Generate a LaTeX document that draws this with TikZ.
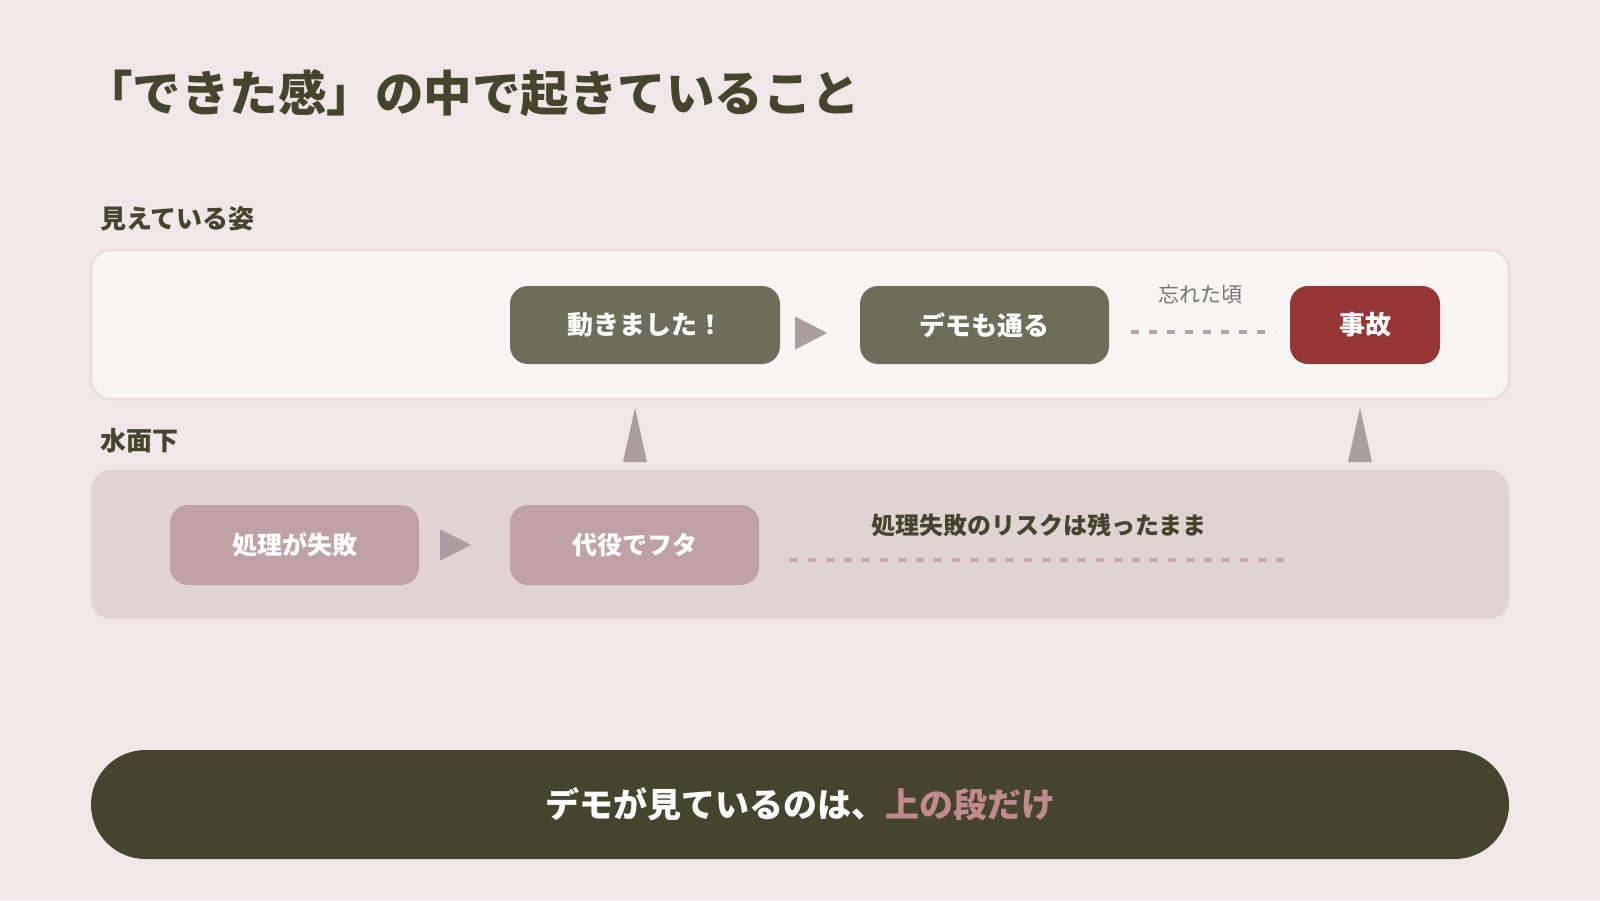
\documentclass[tikz,border=0pt]{standalone}
\usepackage{fontspec}
\setmainfont{Noto Sans CJK JP}
\usetikzlibrary{calc}
\definecolor{bg}{HTML}{F1E7E8}
\definecolor{ink}{HTML}{45452E}
\definecolor{uppanel}{HTML}{F8F6F4}
\definecolor{upborder}{HTML}{E8DDDD}
\definecolor{lowpanel}{HTML}{E2D3D3}
\definecolor{olive}{HTML}{6D6E5A}
\definecolor{accident}{HTML}{963634}
\definecolor{rose}{HTML}{C0A2A6}
\definecolor{tri}{HTML}{A99DA0}
\definecolor{dashup}{HTML}{B2A4A8}
\definecolor{dashlow}{HTML}{C7A9AE}
\definecolor{pinktext}{HTML}{C08A8E}
\definecolor{graytext}{HTML}{75766A}
\tikzset{
  panel/.style={inner sep=0pt, minimum width=1418pt, minimum height=149pt, rounded corners=20pt},
  boxbase/.style={inner sep=0pt, minimum height=78pt, rounded corners=18pt, text=white, font=\fontsize{26}{30}\selectfont\bfseries},
  upbox/.style={boxbase, fill=olive},
  lowbox/.style={boxbase, fill=rose, minimum height=80pt, font=\fontsize{25}{30}\selectfont\bfseries},
  lbl/.style={anchor=west, inner sep=0pt, text=ink, font=\fontsize{26}{30}\selectfont\bfseries},
  trifill/.style={fill=tri},
  dashline/.style={line width=4pt, dash pattern=on 8pt off 10pt},
}
\begin{document}
\begin{tikzpicture}[x=1pt, y=-1pt]
\fill[bg] (0,0) rectangle (1600,900);
\useasboundingbox (0,0) rectangle (1600,900);

% title
\node[anchor=west, inner sep=0pt, text=ink, font=\fontsize{48.5}{54}\selectfont\bfseries] (title) at (84,93) {「できた感」の中で起きていること};

% labels
\node[lbl] (lblup) at (100,219) {見えている姿};
\node[lbl] (lbllow) at (100,441) {水面下};

% panels
\node[panel, fill=uppanel, draw=upborder, line width=2.5pt] (up) at (800,324.5) {};
\node[panel, fill=lowpanel] (low) at (800,544.5) {};

% upper row
\node[upbox, minimum width=270pt] (a) at (645,325) {動きました！};
\node[upbox, minimum width=249pt] (b) at (984.5,325) {デモも通る};
\node[boxbase, fill=accident, minimum width=150pt] (c) at (1365,325) {事故};
\node[inner sep=0pt, text=graytext, font=\fontsize{21}{24}\selectfont] (forgot) at (1200,295) {忘れた頃};

% lower row
\node[lowbox, minimum width=249pt] (d) at (294.5,545) {処理が失敗};
\node[lowbox, minimum width=249pt] (e) at (634.5,545) {代役でフタ};
\node[inner sep=0pt, text=ink, font=\fontsize{24}{28}\selectfont\bfseries] (risk) at (1039,525) {処理失敗のリスクは残ったまま};

% right-pointing triangles
\fill[trifill] ($(a.east)+(15,-8.5)$) -- ++(32,16.5) -- ++(-32,16.5) -- cycle;
\fill[trifill] ($(d.east)+(21,-15.5)$) -- ++(31,15.5) -- ++(-31,15.5) -- cycle;

% up-pointing triangles
\coordinate (t1) at (635,462);
\coordinate (t2) at (1360,462);
\fill[trifill] (t1) ++(-12,0) -- ++(12,-54) -- ++(12,54) -- cycle;
\fill[trifill] (t2) ++(-12,0) -- ++(12,-54) -- ++(12,54) -- cycle;

% dashed lines
\coordinate (du1) at (1131,332);
\coordinate (du2) at (1275,332);
\draw[dashline, draw=dashup] (du1) -- (du2);
\coordinate (dl1) at (790,560);
\coordinate (dl2) at (1286,560);
\draw[dashline, draw=dashlow] (dl1) -- (dl2);

% bottom bar
\node[inner sep=0pt, minimum width=1418pt, minimum height=109pt, rounded corners=54.5pt, fill=ink] (bar) at (800,804.5) {};
\node[inner sep=0pt, text=white, font=\fontsize{34}{40}\selectfont\bfseries] (msg) at (bar.center) {デモが見ているのは、\textcolor{pinktext}{上の段だけ}};
\end{tikzpicture}
\end{document}
